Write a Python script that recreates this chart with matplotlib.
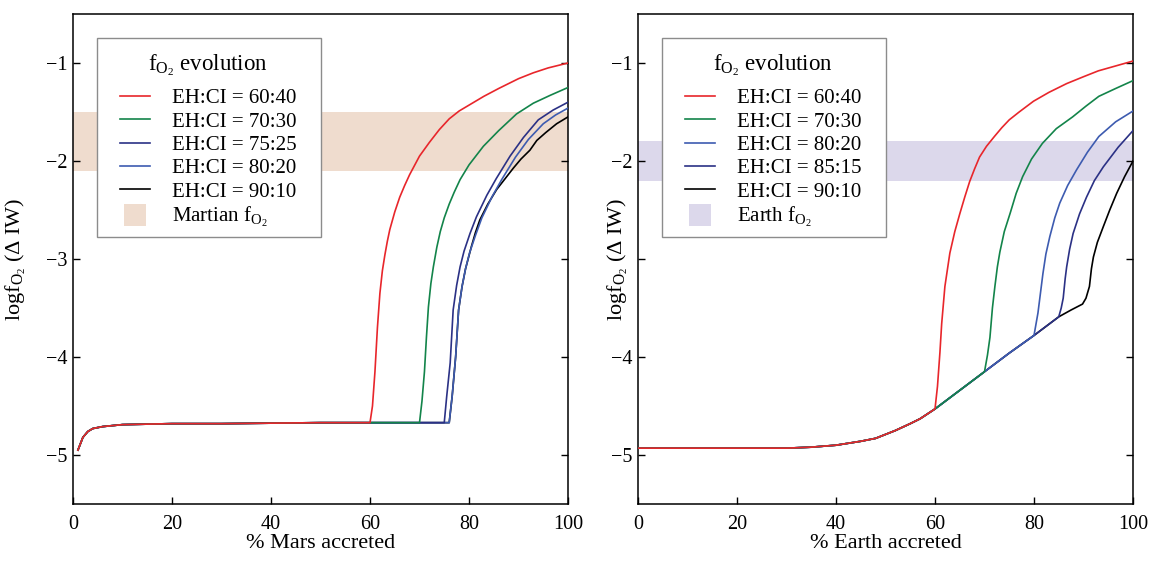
import numpy as np
import matplotlib
matplotlib.use("Agg")
import matplotlib.pyplot as plt
from matplotlib.lines import Line2D
from matplotlib.patches import Rectangle

plt.rcParams['font.family'] = ['Liberation Serif', 'DejaVu Serif']
plt.rcParams['mathtext.fontset'] = 'custom'
plt.rcParams['mathtext.rm'] = 'Liberation Serif'
plt.rcParams['mathtext.it'] = 'Liberation Serif:italic'
plt.rcParams['mathtext.bf'] = 'Liberation Serif:bold'
plt.rcParams['axes.unicode_minus'] = True

# ---------------- Data: Mars (left) ----------------
mars_base_x = [1, 2, 3, 4, 6, 8, 10, 15, 20, 30, 40, 50, 60]
mars_base_y = [-4.95, -4.82, -4.76, -4.73, -4.71, -4.70, -4.69, -4.685, -4.68, -4.68, -4.675, -4.67, -4.67]
mars_flat_y = -4.67

mars_labels = ["EH:CI = 60:40", "EH:CI = 70:30", "EH:CI = 75:25", "EH:CI = 80:20", "EH:CI = 90:10"]

mars_6040_x = [60, 60.5, 61, 61.5, 62, 62.5, 63, 63.5, 64, 65, 66, 67, 68, 70, 72, 74, 76, 78, 80, 83, 86, 90, 93, 96, 100]
mars_6040_y = [-4.67, -4.5, -4.15, -3.7, -3.35, -3.12, -2.96, -2.82, -2.70, -2.52, -2.37, -2.25, -2.14, -1.95, -1.81, -1.68, -1.57, -1.49, -1.43, -1.34, -1.26, -1.16, -1.10, -1.05, -1.0]

mars_7030_x = [70, 70.5, 71, 71.4, 71.8, 72.3, 72.8, 73.5, 74.2, 75, 76, 77, 78.2, 80, 82.9, 86, 89.6, 93, 96.4, 100]
mars_7030_y = [-4.67, -4.45, -4.15, -3.8, -3.49, -3.25, -3.08, -2.88, -2.72, -2.58, -2.44, -2.32, -2.19, -2.04, -1.85, -1.69, -1.52, -1.41, -1.33, -1.25]

mars_7525_x = [75, 75.5, 76.2, 76.8, 77.5, 78.2, 79, 80.2, 81.5, 83.6, 85.5, 88.3, 91, 94, 97, 100]
mars_7525_y = [-4.67, -4.4, -4.06, -3.52, -3.27, -3.08, -2.92, -2.74, -2.57, -2.35, -2.18, -1.95, -1.76, -1.58, -1.48, -1.40]

mars_8020_x = [76, 76.6, 77.3, 77.9, 78.6, 79.3, 80.1, 81.3, 82.6, 84.7, 86.6, 89.4, 92, 95, 97.5, 100]
mars_8020_y = [-4.67, -4.4, -4.0, -3.52, -3.28, -3.1, -2.94, -2.76, -2.58, -2.36, -2.19, -1.96, -1.78, -1.62, -1.53, -1.46]

mars_9010_x = [76, 76.6, 77.3, 77.9, 78.6, 79.3, 80.5, 81.3, 82.2, 83.8, 85.6, 87.3, 89, 90.5, 92.3, 93.7, 95.5, 97.7, 100]
mars_9010_y = [-4.67, -4.4, -4.0, -3.52, -3.28, -3.1, -2.87, -2.73, -2.60, -2.44, -2.29, -2.18, -2.07, -1.98, -1.89, -1.79, -1.71, -1.62, -1.55]

mars_band = (-2.1, -1.5)

# ---------------- Data: Earth (right) ----------------
earth_base_x = [0, 10, 20, 30, 35, 40, 45, 48, 50, 52, 55, 57, 60, 65, 70, 75, 80, 85, 87.5, 89.8]
earth_base_y = [-4.93, -4.93, -4.93, -4.93, -4.92, -4.90, -4.86, -4.83, -4.79, -4.75, -4.68, -4.63, -4.53, -4.34, -4.15, -3.96, -3.78, -3.59, -3.52, -3.46]

earth_labels = ["EH:CI = 60:40", "EH:CI = 70:30", "EH:CI = 80:20", "EH:CI = 85:15", "EH:CI = 90:10"]
earth_breaks = [60, 70, 80, 85, 89.8]

earth_6040_x = [60.5, 61, 61.35, 62, 63, 64, 65, 66, 67, 68, 69, 70.4, 72, 73.5, 75, 77, 79.9, 83, 86.6, 90, 93, 96.5, 100]
earth_6040_y = [-4.3, -3.95, -3.66, -3.28, -2.94, -2.72, -2.54, -2.37, -2.21, -2.08, -1.96, -1.85, -1.75, -1.66, -1.58, -1.50, -1.39, -1.30, -1.21, -1.14, -1.08, -1.03, -0.98]

earth_7030_x = [70.6, 71.1, 71.6, 72.1, 72.6, 73.1, 74, 75.2, 76.4, 77.7, 79.5, 81.7, 84.5, 87.8, 90.5, 93.1, 96.5, 100]
earth_7030_y = [-3.98, -3.8, -3.5, -3.28, -3.08, -2.93, -2.72, -2.53, -2.33, -2.16, -1.98, -1.82, -1.67, -1.55, -1.44, -1.34, -1.26, -1.18]

earth_8020_x = [80.8, 81.3, 81.8, 82.4, 83.2, 84.2, 85.2, 86.8, 88.6, 90.8, 93.1, 96.5, 100]
earth_8020_y = [-3.55, -3.35, -3.15, -2.95, -2.77, -2.58, -2.43, -2.25, -2.09, -1.91, -1.75, -1.60, -1.49]

earth_8515_x = [85.5, 85.9, 86.3, 86.6, 87.2, 87.9, 89.2, 90.6, 92.2, 94.0, 97, 100]
earth_8515_y = [-3.5, -3.40, -3.2, -3.08, -2.9, -2.74, -2.54, -2.37, -2.2, -2.06, -1.86, -1.69]

earth_9010_x = [90.5, 91.2, 91.6, 92.0, 92.8, 94.0, 95.3, 96.7, 98.3, 100]
earth_9010_y = [-3.40, -3.28, -3.1, -2.98, -2.83, -2.67, -2.5, -2.33, -2.16, -2.0]

earth_band = (-2.2, -1.8)

x_ticks = [0, 20, 40, 60, 80, 100]
y_ticks = [-5, -4, -3, -2, -1]
mars_ytick_labels = ['\u22125', '\u22124', '\u22123', '\u22122', '\u22121']
earth_ytick_labels = ['\u22125', '\u22124', '', '\u22122', '\u22121']  # −3 hidden by the y label

# ---------------- Styles ----------------
c_red = '#e8262b'
c_green = '#13844a'
c_navy = '#2b3185'
c_blue = '#3d5bb0'
c_black = '#000000'
mars_colors = [c_red, c_green, c_navy, c_blue, c_black]
earth_colors = [c_red, c_green, c_blue, c_navy, c_black]
mars_band_color = '#efdcce'
earth_band_color = '#dcd8eb'

LW = 1.2
W, H = 1150, 563

fig = plt.figure(figsize=(W / 100, H / 100), dpi=100)
ax1 = fig.add_axes([73 / W, 59 / H, 495 / W, 490 / H])
ax2 = fig.add_axes([638 / W, 59 / H, 495 / W, 490 / H])

# Mars series
mars_rise = [(mars_6040_x, mars_6040_y), (mars_7030_x, mars_7030_y), (mars_7525_x, mars_7525_y),
             (mars_8020_x, mars_8020_y), (mars_9010_x, mars_9010_y)]
mars_series = []
for rx, ry in mars_rise:
    bx = [x for x in mars_base_x if x < rx[0]] + [rx[0]]
    by = [y for x, y in zip(mars_base_x, mars_base_y) if x < rx[0]] + [mars_flat_y]
    mars_series.append((bx + list(rx[1:]), by + list(ry[1:])))

ax1.axhspan(mars_band[0], mars_band[1], color=mars_band_color, lw=0, zorder=0)
for i in reversed(range(5)):
    xs, ys = mars_series[i]
    ax1.plot(xs, ys, color=mars_colors[i], lw=LW, zorder=2 + (5 - i))

# Earth series
earth_rise = [(earth_6040_x, earth_6040_y), (earth_7030_x, earth_7030_y), (earth_8020_x, earth_8020_y),
              (earth_8515_x, earth_8515_y), (earth_9010_x, earth_9010_y)]
earth_series = []
for b, (rx, ry) in zip(earth_breaks, earth_rise):
    bx = [x for x in earth_base_x if x <= b]
    by = [y for x, y in zip(earth_base_x, earth_base_y) if x <= b]
    earth_series.append((bx + list(rx), by + list(ry)))

ax2.axhspan(earth_band[0], earth_band[1], color=earth_band_color, lw=0, zorder=0)
for i in reversed(range(5)):
    xs, ys = earth_series[i]
    ax2.plot(xs, ys, color=earth_colors[i], lw=LW, zorder=2 + (5 - i))

fo2 = r'$\mathrm{f}_{\mathrm{O}_2}$'
for ax, labels, colors, bandc, bandlab, xlab, ylx, ytl in [
        (ax1, mars_labels, mars_colors, mars_band_color, 'Martian ' + fo2, '% Mars accreted', -0.091, mars_ytick_labels),
        (ax2, earth_labels, earth_colors, earth_band_color, 'Earth ' + fo2, '% Earth accreted', -0.017, earth_ytick_labels)]:
    ax.set_xlim(0, 100)
    ax.set_ylim(-5.5, -0.5)
    ax.set_xticks(x_ticks)
    ax.set_yticks(y_ticks)
    ax.set_yticklabels(ytl)
    ax.tick_params(direction='in', length=5, width=1, right=True, top=False, labelsize=14.5)
    ax.tick_params(axis='x', pad=8)
    ax.tick_params(axis='y', pad=4)
    for sp in ax.spines.values():
        sp.set_linewidth(1.1)
    ax.set_xlabel(xlab, fontsize=16, labelpad=0)
    ax.set_ylabel('log' + fo2 + ' (Δ IW)', fontsize=16)
    ax.yaxis.set_label_coords(ylx, 0.5)

    # legend frame (drawn manually for exact padding)
    fr = Rectangle((24 / 495, 1 - 223 / 490), 224 / 495, 199 / 490, transform=ax.transAxes,
                   facecolor='white', edgecolor='#8c8c8c', lw=1.0, zorder=19)
    ax.add_patch(fr)

    handles = [Line2D([], [], color=c, lw=LW) for c in colors]
    handles.append(Line2D([], [], ls='none', marker='s', markersize=16, markerfacecolor=bandc,
                          markeredgewidth=0))
    leg = ax.legend(handles, labels + [bandlab], loc='upper left',
                    bbox_to_anchor=(47 / 495, 1 - 38 / 490),
                    borderaxespad=0, borderpad=0, fontsize=15, title=fo2 + ' evolution',
                    title_fontsize=16.5, frameon=False,
                    handlelength=1.44, handletextpad=1.05, labelspacing=0.18)
    leg._legend_box.sep = 8
    leg.set_zorder(20)

fig.savefig('out.png', dpi=100)
